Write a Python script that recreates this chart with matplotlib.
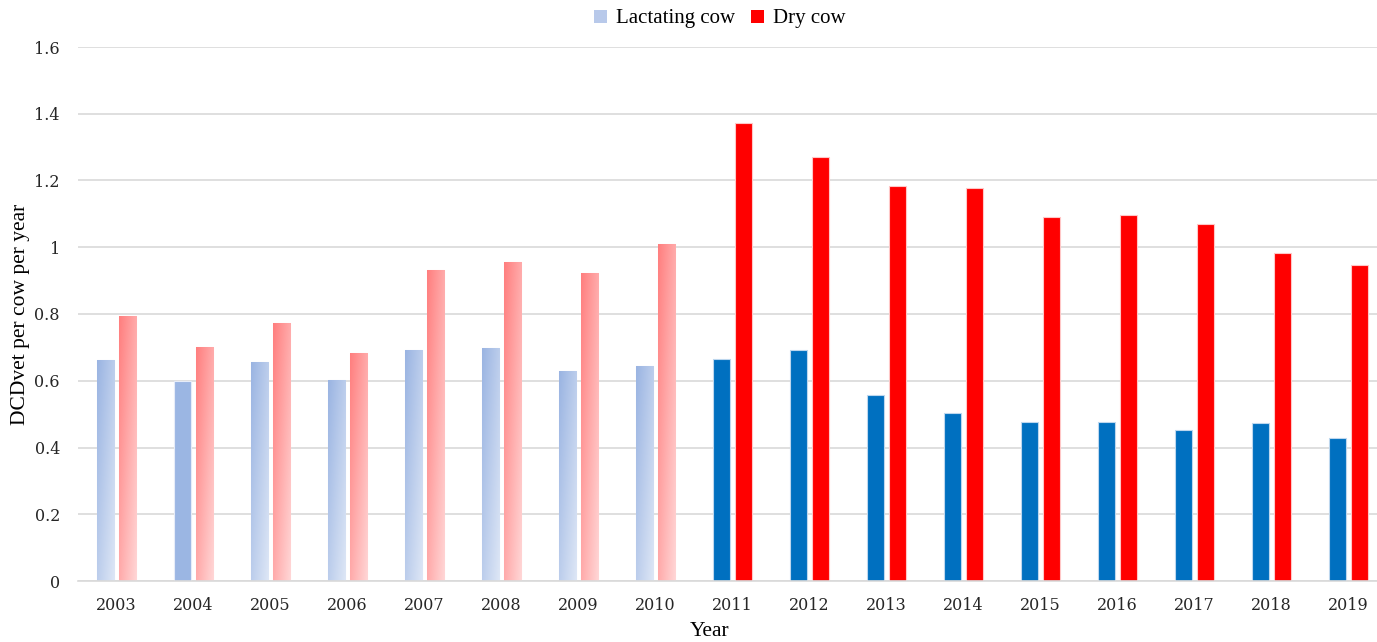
import numpy as np
import matplotlib
matplotlib.use("Agg")
import matplotlib.pyplot as plt
from matplotlib.colors import LinearSegmentedColormap
from matplotlib.patches import Patch

years = [str(y) for y in range(2003, 2020)]
lactating = [0.662, 0.599, 0.656, 0.602, 0.692, 0.698, 0.629, 0.644,
             0.665, 0.692, 0.557, 0.503, 0.476, 0.476, 0.452, 0.473, 0.428]
dry = [0.794, 0.701, 0.773, 0.683, 0.932, 0.956, 0.923, 1.010,
       1.372, 1.270, 1.184, 1.178, 1.091, 1.097, 1.070, 0.983, 0.947]
# years drawn with the faded gradient fill (2003-2010); 2004 lactating is flat
faded_lact = [1, 0, 1, 1, 1, 1, 1, 1] + [0] * 9
flat_lact_2004 = "#9BB6E3"
faded_dry = [1] * 8 + [0] * 9

BLUE = "#0070C0"
RED = "#FF0000"
blue_grad = LinearSegmentedColormap.from_list("bg", ["#9AB4E2", "#DEE7F6"])
red_grad = LinearSegmentedColormap.from_list("rg", ["#FF7E7E", "#FFD7D7"])

serif = ["Liberation Serif", "DejaVu Serif"]

W, H = 1377, 642
fig = plt.figure(figsize=(W / 100, H / 100), dpi=100)
# plot area in pixels: x from 78 to 1387 (cut at the figure edge), y 47..581
ax = fig.add_axes([78 / W, (H - 581) / H, 1309 / W, (581 - 47) / H])

x = np.arange(len(years))
bw = 0.225
off = 0.143


def gradient_fill(rect, cmap):
    x0, y0 = rect.get_x(), rect.get_y()
    w, h = rect.get_width(), rect.get_height()
    gx, gy = np.meshgrid(np.linspace(0, 1, 40), np.linspace(0, 1, 200))
    t = 0.5 * gx + 0.5 * gy  # row 0 is the top with origin='upper'
    im = ax.imshow(t, cmap=cmap, vmin=0, vmax=1, extent=[x0, x0 + w, y0, y0 + h],
                   aspect="auto", origin="upper", zorder=2, interpolation="bilinear")
    im.set_clip_path(rect)


lb = ax.bar(x - off, lactating, bw, color=BLUE, edgecolor="#BDD7EE", linewidth=0.8, zorder=2)
db = ax.bar(x + off, dry, bw, color=RED, edgecolor="#FFC7C7", linewidth=0.8, zorder=2)

for i, r in enumerate(lb):
    if faded_lact[i]:
        r.set_facecolor("none")
        r.set_edgecolor("#E6ECF8")
        gradient_fill(r, blue_grad)
    elif i == 1:
        r.set_facecolor(flat_lact_2004)
        r.set_edgecolor("#E6ECF8")
for i, r in enumerate(db):
    if faded_dry[i]:
        r.set_facecolor("none")
        r.set_edgecolor("#FFE3E3")
        gradient_fill(r, red_grad)

ax.set_xlim(-0.5, len(years) - 0.5)
ax.set_ylim(0, 1.6)
ax.set_yticks(np.arange(0, 1.61, 0.2))
ax.set_yticklabels(["0", "0.2", "0.4", "0.6", "0.8", "1", "1.2", "1.4", "1.6"])
ax.set_xticks(x)
ax.set_xticklabels(years)
ax.tick_params(length=0, colors="#262626", pad=11.5)
ax.tick_params(axis="y", pad=13)
for lab in ax.get_xticklabels() + ax.get_yticklabels():
    lab.set_fontfamily(["DejaVu Serif"])
    lab.set_fontsize(11.5)

ax.grid(axis="y", color="#D9D9D9", linewidth=1.2, zorder=0)
ax.set_axisbelow(True)
for s in ["top", "right", "left"]:
    ax.spines[s].set_visible(False)
ax.spines["bottom"].set_color("#D9D9D9")
ax.spines["bottom"].set_linewidth(1.2)

ax.set_ylabel("DCDvet per cow per year", fontsize=15.5, family=serif)
ax.yaxis.set_label_coords(-(78 - 30) / 1309, 0.5)
fig.text(710 / W, 1 - 631 / H, "Year", ha="center", va="center", fontsize=15.5, family=serif)

handles = [Patch(facecolor="#B8C9EA", edgecolor="none", label="Lactating cow"),
           Patch(facecolor=RED, edgecolor="none", label="Dry cow")]
fig.legend(handles=handles, loc="center", bbox_to_anchor=(720 / W, 1 - 19 / H), ncol=2,
           frameon=False, prop={"family": serif, "size": 15}, handlelength=0.6,
           handleheight=0.6, handletextpad=0.45, columnspacing=0.75)

fig.savefig("out.png", dpi=100)
